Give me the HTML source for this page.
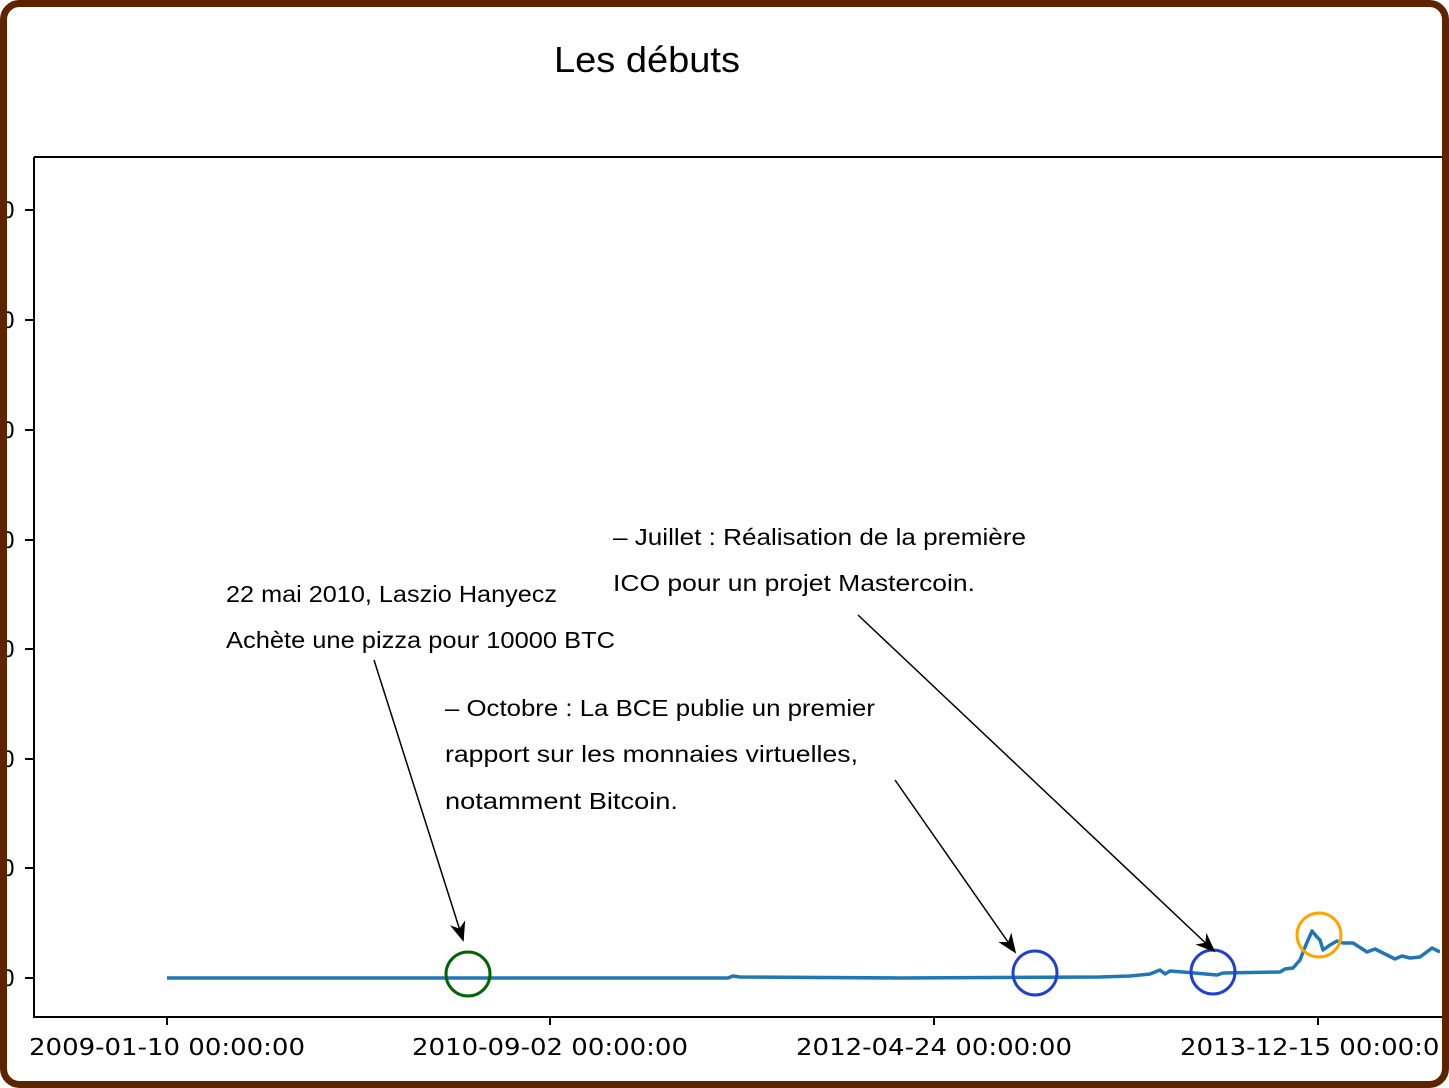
<!DOCTYPE html>
<html><head><meta charset="utf-8"><style>
html,body{margin:0;padding:0;background:#fff}
svg{display:block}
</style></head><body>
<svg width="1449" height="1088" viewBox="0 0 1449 1088" xmlns="http://www.w3.org/2000/svg">
<defs>
<marker id="ah" viewBox="0 0 20 20" refX="18" refY="10" markerWidth="20" markerHeight="20" markerUnits="userSpaceOnUse" orient="auto">
<path d="M0,2 L20,10 L0,18 L6,10 Z" fill="#000"/>
</marker>
<clipPath id="cp"><rect x="0" y="0" width="1440" height="1088"/></clipPath>
</defs>
<rect width="1449" height="1088" fill="#fff"/>
<text x="647" y="72" font-family="Liberation Sans, sans-serif" font-size="36" text-anchor="middle" textLength="186" lengthAdjust="spacingAndGlyphs">Les débuts</text>
<path d="M34,157 H1442 M34,157 V1017 H1442" fill="none" stroke="#000" stroke-width="2"/>
<g stroke="#000" stroke-width="2">
<line x1="25" y1="210" x2="34" y2="210"/><line x1="25" y1="320" x2="34" y2="320"/>
<line x1="25" y1="430" x2="34" y2="430"/><line x1="25" y1="540" x2="34" y2="540"/>
<line x1="25" y1="649" x2="34" y2="649"/><line x1="25" y1="759" x2="34" y2="759"/>
<line x1="25" y1="868" x2="34" y2="868"/><line x1="25" y1="978" x2="34" y2="978"/>
<line x1="167" y1="1017" x2="167" y2="1025"/><line x1="550" y1="1017" x2="550" y2="1025"/>
<line x1="934" y1="1017" x2="934" y2="1025"/><line x1="1318" y1="1017" x2="1318" y2="1025"/>
</g>
<g font-family="'DejaVu Sans', sans-serif" font-size="22" text-anchor="end">
<text x="15" y="218">0</text><text x="15" y="328">0</text><text x="15" y="438">0</text><text x="15" y="548">0</text>
<text x="15" y="657">0</text><text x="15" y="767">0</text><text x="15" y="876">0</text><text x="15" y="986">0</text>
</g>
<g font-family="'DejaVu Sans', sans-serif" font-size="23" clip-path="url(#cp)">
<text x="29" y="1055" textLength="276" lengthAdjust="spacingAndGlyphs">2009-01-10 00:00:00</text>
<text x="412" y="1055" textLength="276" lengthAdjust="spacingAndGlyphs">2010-09-02 00:00:00</text>
<text x="796" y="1055" textLength="276" lengthAdjust="spacingAndGlyphs">2012-04-24 00:00:00</text>
<text x="1180" y="1055" textLength="276" lengthAdjust="spacingAndGlyphs">2013-12-15 00:00:00</text>
</g>
<polyline clip-path="url(#cp)" fill="none" stroke="#1f77b4" stroke-width="3.5" stroke-linejoin="round" points="167,978 728,978 733,976 740,977 900,978 1100,977 1130,976 1150,974 1160,970 1165,974 1170,971 1183,972 1217,975 1223,973 1280,972 1285,969 1293,968 1300,960 1305,947 1312,931 1317,937 1320,940 1323,950 1330,945 1337,941 1343,943 1353,943 1367,952 1375,949 1387,955 1395,959 1402,956 1410,958 1420,957 1432,948 1440,952"/>
<circle cx="468" cy="974" r="22" fill="none" stroke="#006400" stroke-width="3"/>
<circle cx="1035" cy="973" r="22" fill="none" stroke="#2040d0" stroke-width="3"/>
<circle cx="1213" cy="972" r="22" fill="none" stroke="#2040d0" stroke-width="3"/>
<circle cx="1319" cy="935" r="22" fill="none" stroke="#ffa500" stroke-width="3"/>
<g stroke="#000" stroke-width="1.5" marker-end="url(#ah)">
<line x1="374" y1="660" x2="463" y2="940"/>
<line x1="895" y1="780" x2="1015" y2="952"/>
<line x1="858" y1="615" x2="1214" y2="951"/>
</g>
<g font-family="Liberation Sans, sans-serif" font-size="23">
<text x="226" y="602" textLength="331" lengthAdjust="spacingAndGlyphs">22 mai 2010, Laszio Hanyecz</text>
<text x="226" y="648" textLength="389" lengthAdjust="spacingAndGlyphs">Achète une pizza pour 10000 BTC</text>
<text x="613" y="545" textLength="413" lengthAdjust="spacingAndGlyphs">– Juillet : Réalisation de la première</text>
<text x="613" y="591" textLength="362" lengthAdjust="spacingAndGlyphs">ICO pour un projet Mastercoin.</text>
<text x="445" y="716" textLength="430" lengthAdjust="spacingAndGlyphs">– Octobre : La BCE publie un premier</text>
<text x="445" y="762" textLength="413" lengthAdjust="spacingAndGlyphs">rapport sur les monnaies virtuelles,</text>
<text x="445" y="809" textLength="233" lengthAdjust="spacingAndGlyphs">notamment Bitcoin.</text>
</g>
<rect x="3.5" y="3.5" width="1442" height="1081" rx="16" fill="none" stroke="#5c2400" stroke-width="7"/>
</svg>
</body></html>
